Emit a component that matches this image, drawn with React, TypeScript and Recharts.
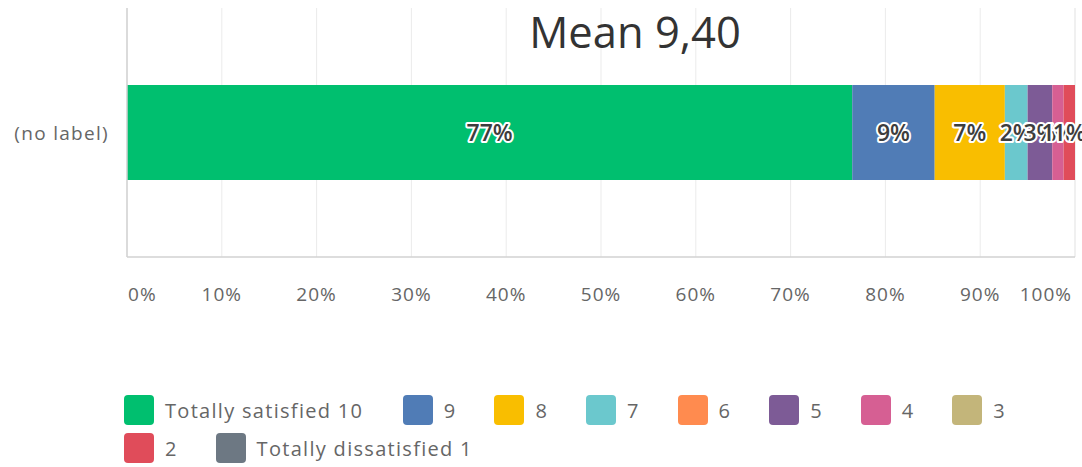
import { BarChart, Bar, XAxis, YAxis, CartesianGrid, Legend, LabelList } from "recharts";

const categories = ["(no label)"];
const seriesNames = [
  "Totally satisfied 10",
  "9",
  "8",
  "7",
  "6",
  "5",
  "4",
  "3",
  "2",
  "Totally dissatisfied 1",
];
const seriesValues = [76.5, 8.7, 7.4, 2.4, 0, 2.6, 1.2, 0, 1.2, 0];
const seriesColors = [
  "#00bf6f",
  "#507cb6",
  "#f9be00",
  "#6bc8cd",
  "#ff8b4f",
  "#7d5b96",
  "#d65f93",
  "#c3b57a",
  "#e04c5a",
  "#6d7883",
];
const xTicks = [0, 10, 20, 30, 40, 50, 60, 70, 80, 90, 100];
const meanLabel = "Mean 9,40";

const font = "'Open Sans', sans-serif";
const textGray = "#666666";

const data = categories.map((name) => {
  const row: Record<string, string | number> = { name };
  seriesValues.forEach((v, i) => {
    row[`s${i}`] = v;
  });
  return row;
});

const XTick = (props: any) => {
  const { x, y, payload } = props;
  const v = payload.value;
  const anchor = v === 0 ? "start" : v === 100 ? "end" : "middle";
  const dx = v === 0 ? 1 : v === 100 ? -3 : 0;
  return (
    <text
      x={x + dx}
      y={y}
      dy={42}
      textAnchor={anchor}
      fill={textGray}
      fontSize={19}
      fontFamily={font}
      letterSpacing={1}
    >
      {v}%
    </text>
  );
};

const YTick = (props: any) => {
  const { x, y, payload } = props;
  return (
    <text
      x={x - 16}
      y={y}
      dy={7}
      textAnchor="end"
      fill={textGray}
      fontSize={19}
      fontFamily={font}
      letterSpacing={1.3}
    >
      {payload.value}
    </text>
  );
};

// halo drawn first, dark text on top
const SegmentLabel = (props: any) => {
  const { x, y, width, height, value } = props;
  if (!value) return null;
  const common = {
    x: x + width / 2,
    y: y + height / 2,
    dy: 8,
    textAnchor: "middle" as const,
    fontSize: 23,
    fontWeight: 600,
    fontFamily: font,
  };
  return (
    <g>
      <text {...common} fill="#ffffff" stroke="#ffffff" strokeWidth={4} strokeLinejoin="round">
        {Math.round(value)}%
      </text>
      <text {...common} fill="#3d3d3d">
        {Math.round(value)}%
      </text>
    </g>
  );
};

const LegendContent = (props: any) => {
  const { payload } = props;
  const unit = 91.6;
  return (
    <div
      style={{
        display: "flex",
        flexWrap: "wrap",
        width: 960,
        height: 80,
        paddingTop: 4,
        boxSizing: "border-box",
        fontFamily: font,
      }}
    >
      {(payload || []).map((p: any) => {
        const units = Math.ceil((41 + String(p.value).length * 10 + 20) / unit);
        return (
          <div
            key={p.value}
            style={{
              width: units * unit + (units - 1) * 2,
              height: 38,
              display: "flex",
              alignItems: "center",
            }}
          >
            <span
              style={{
                width: 30,
                height: 30,
                borderRadius: 4,
                background: p.color,
                display: "inline-block",
                marginRight: 11,
                flexShrink: 0,
              }}
            />
            <span style={{ fontSize: 20, color: textGray, letterSpacing: 1.3, whiteSpace: "nowrap" }}>
              {p.value}
            </span>
          </div>
        );
      })}
    </div>
  );
};

export default function App() {
  return (
    <div
      style={{
        position: "absolute",
        left: 0,
        top: 0,
        width: 1082,
        height: 467,
        background: "#ffffff",
      }}
    >
      <BarChart
        width={1082}
        height={467}
        data={data}
        layout="vertical"
        margin={{ top: 8, right: 7, left: 0, bottom: 0 }}
      >
        <CartesianGrid vertical horizontal={false} stroke="#ebebeb" />
        <XAxis
          type="number"
          domain={[0, 100]}
          ticks={xTicks}
          tick={<XTick />}
          tickLine={false}
          tickSize={0}
          axisLine={{ stroke: "#d2d2d2", strokeWidth: 1.5 }}
          height={130}
          interval={0}
        />
        <YAxis
          type="category"
          dataKey="name"
          width={127}
          tick={<YTick />}
          tickLine={false}
          tickSize={0}
          axisLine={{ stroke: "#d2d2d2", strokeWidth: 1.5 }}
        />
        <Legend
          verticalAlign="bottom"
          align="left"
          content={<LegendContent />}
          itemSorter={(item: any) => seriesNames.indexOf(item.value)}
          wrapperStyle={{ left: 124, width: 960 }}
        />
        {seriesNames.map((name, i) => (
          <Bar
            key={name}
            dataKey={`s${i}`}
            name={name}
            stackId="a"
            fill={seriesColors[i]}
            barSize={95}
            isAnimationActive={false}
          >
            <LabelList dataKey={`s${i}`} content={<SegmentLabel />} />
          </Bar>
        ))}
      </BarChart>
      <div
        style={{
          position: "absolute",
          left: 0,
          width: 1270,
          top: 2,
          textAlign: "center",
          fontFamily: font,
          fontSize: 43.5,
          color: "#333333",
          pointerEvents: "none",
        }}
      >
        {meanLabel}
      </div>
    </div>
  );
}
